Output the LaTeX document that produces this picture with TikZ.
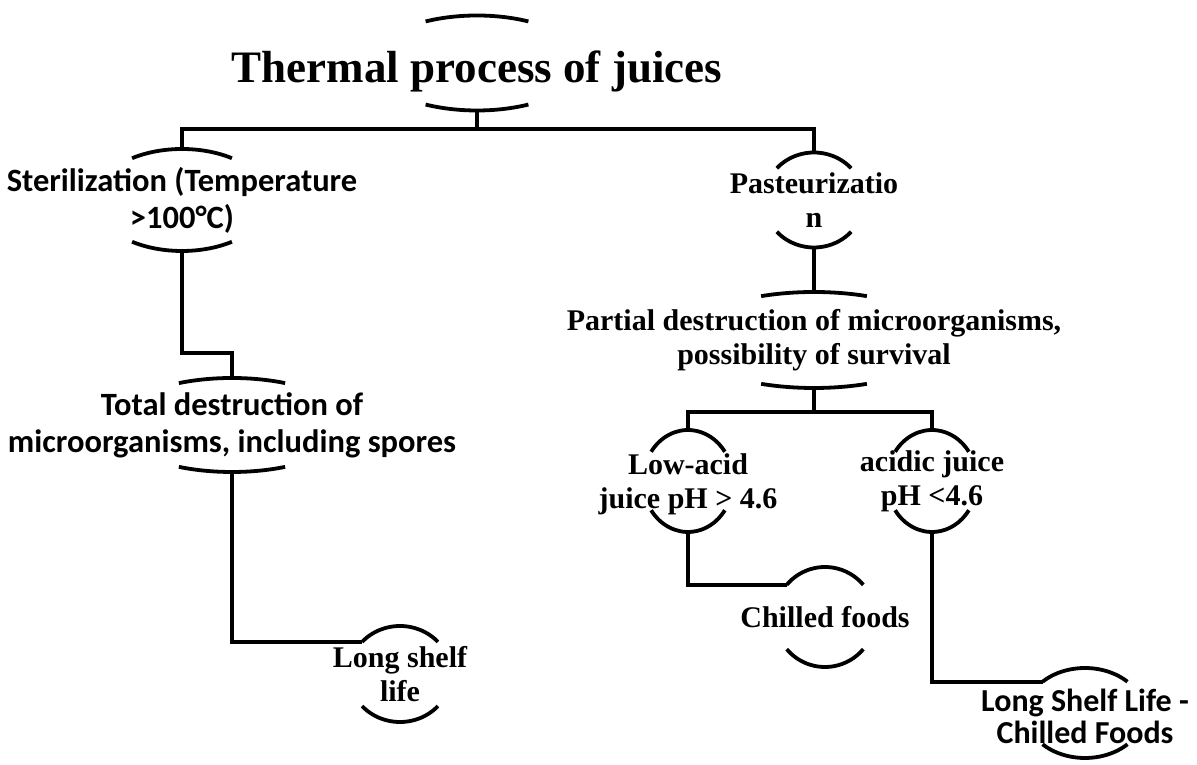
\documentclass[tikz,border=0pt]{standalone}
\usepackage{fontspec}
\setmainfont{Liberation Serif}
\newfontfamily\calibrifont{Carlito}
\usetikzlibrary{positioning}

% arcs above and below a box: node, x radius, y radius, half angle
\newcommand\caparcs[4]{%
  \draw[capline] ([shift={({-#2*sin(#4)},{#3*cos(#4)})}]#1.center)
    arc[start angle=90+#4, end angle=90-#4, x radius=#2pt, y radius=#3pt];
  \draw[capline] ([shift={({-#2*sin(#4)},{-#3*cos(#4)})}]#1.center)
    arc[start angle=270-#4, end angle=270+#4, x radius=#2pt, y radius=#3pt];
  \coordinate (#1-in) at ([shift={({-#2*sin(#4)},{#3*cos(#4)})}]#1.center);
}

\begin{document}
\begin{tikzpicture}[x=1pt, y=1pt, on grid,
    capline/.style={line width=3.8pt},
    link/.style={line width=3.8pt},
    serifbox/.style={inner sep=0pt, align=center, font=\bfseries\fontsize{30}{34}\selectfont},
    sansbox/.style={inner sep=0pt, align=center, font=\calibrifont\bfseries\fontsize{32.5}{37}\selectfont}]

        \useasboundingbox (0,0) rectangle (1197,765);

        \node[serifbox, font=\bfseries\fontsize{45}{50}\selectfont, text height=48pt, text depth=9pt, minimum height=95pt] (title) at (477,702) {Thermal process of juices};
        \node[sansbox, minimum height=102pt] (steril) [below left=137pt and 295pt of title] {Sterilization (Temperature\\>100°C)};
        \node[serifbox, minimum height=95pt] (past) [below right=137pt and 337pt of title] {Pasteurizatio\\n};
        \node[sansbox, minimum height=94pt] (total) [below right=225pt and 50pt of steril] {Total destruction of\\microorganisms, including spores};
        \node[serifbox, minimum height=96pt] (partial) [below=140pt of past] {Partial destruction of microorganisms,\\possibility of survival};
        \node[serifbox, minimum height=102pt] (lowacid) [below left=141pt and 126pt of partial] {\rule{0pt}{28pt}Low-acid\\juice pH > 4.6};
        \node[serifbox, minimum height=102pt] (acidic) [below right=141pt and 118pt of partial] {acidic juice\\pH <4.6};
        \node[serifbox, minimum height=96pt] (shelf) [below right=249pt and 168pt of total] {Long shelf\\life};
        \node[serifbox, minimum height=100pt] (chilled) [below right=136pt and 137pt of lowacid] {Chilled foods};
        \node[sansbox, font=\calibrifont\bfseries\fontsize{32}{32}\selectfont, minimum height=90pt] (shelfchill) [below right=232pt and 153pt of acidic] {\rule{0pt}{30pt}Long Shelf Life -\\Chilled Foods};

        \caparcs{title}{106}{47.5}{29}
        \caparcs{steril}{87}{51}{35}
        \caparcs{past}{50}{47.5}{48}
        \caparcs{total}{117}{47}{27}
        \caparcs{partial}{130}{48}{24}
        \caparcs{lowacid}{45}{51}{55}
        \caparcs{acidic}{45}{51}{55}
        \caparcs{shelf}{51}{48}{48}
        \caparcs{chilled}{50}{50}{50}
        \caparcs{shelfchill}{59}{45}{46}

        \draw[link] (title.south) -- ++(0,-18) -| (steril.north);
        \draw[link] (title.south) -- ++(0,-18) -| (past.north);
        \draw[link] (steril.south) -- ++(0,-102) -| (total.north);
        \draw[link] (total.south) |- (shelf-in);
        \draw[link] (past.south) -- (partial.north);
        \draw[link] (partial.south) -- ++(0,-24) -| (lowacid.north);
        \draw[link] (partial.south) -- ++(0,-24) -| (acidic.north);
        \draw[link] (lowacid.south) |- (chilled-in);
        \draw[link] (acidic.south) |- (shelfchill-in);

    \end{tikzpicture}
\end{document}
